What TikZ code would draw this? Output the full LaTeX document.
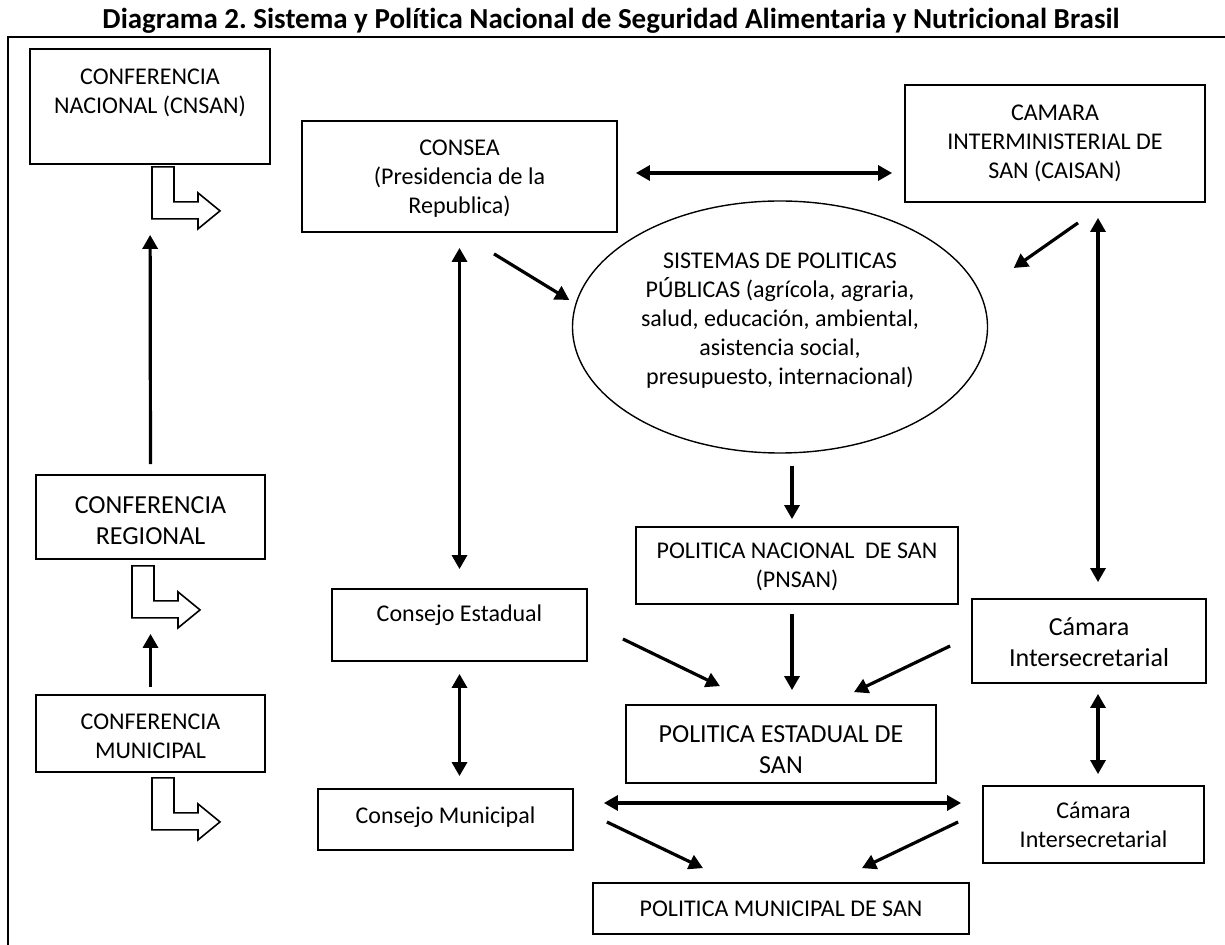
\documentclass[tikz,border=0pt]{standalone}
\usepackage{fontspec}
\setmainfont{Carlito}[Ligatures=NoCommon]
\frenchspacing
\usetikzlibrary{arrows.meta,shapes.geometric}

\tikzset{
  caja/.style={draw, line width=0.9pt, inner sep=0pt, align=center,
    text depth=0pt, font=\fontsize{12}{14.5}\selectfont},
  grande/.style={font=\fontsize{13}{15.5}\selectfont},
  elipse/.style={ellipse, draw, line width=0.7pt, inner sep=0pt, align=center,
    text depth=0pt, font=\fontsize{12}{14.5}\selectfont},
  flecha/.style={-{Triangle[length=7pt,width=7.5pt]}, line width=1.6pt},
  doble/.style={{Triangle[length=7pt,width=7.5pt]}-{Triangle[length=7pt,width=7.5pt]}, line width=1.6pt},
  codo/.pic={
    \draw[line width=0.8pt, fill=white] (0,0) -- (22,0) -- (22,35) -- (46,35) -- (46,26)
      -- (68,44) -- (46,62) -- (46,52) -- (0,52) -- cycle;
  }
}

\begin{document}
\begin{tikzpicture}[x=0.5pt, y=-0.5pt]
\useasboundingbox (0,0) rectangle (1225,945);
\node[font=\bfseries\fontsize{14.5}{17}\selectfont, anchor=base] (titulo) at (611,29)
  {Diagrama 2. Sistema y Política Nacional de Seguridad Alimentaria y Nutricional Brasil};
\draw[line width=1pt] (8,945) -- (8,37) -- (1225,37);

\node[caja, minimum width=120pt, minimum height=57.5pt, text height=7.5pt] (nacional) at (150,106.5)
  {CONFERENCIA\\NACIONAL (CNSAN)};
\node[caja, grande, minimum width=114.5pt, minimum height=42pt, text height=27.4pt] (regional) at (150.5,517)
  {CONFERENCIA\\REGIONAL};
\node[caja, minimum width=114.5pt, minimum height=38.5pt, text height=25.2pt] (municipal) at (150.5,733.5)
  {CONFERENCIA\\MUNICIPAL};
\node[caja, minimum width=157.5pt, minimum height=55.5pt, text height=37.5pt] (consea) at (459.5,176.5)
  {CONSEA\\(Presidencia de la\\Republica)};
\node[caja, minimum width=150pt, minimum height=58.5pt, text height=35.5pt] (caisan) at (1055,143.5)
  {CAMARA\\INTERMINISTERIAL DE\\SAN (CAISAN)};
\node[elipse, minimum width=207.5pt, minimum height=126pt, text height=58pt] (sistemas) at (780,327)
  {SISTEMAS DE POLITICAS\\PÚBLICAS (agrícola, agraria,\\salud, educación, ambiental,\\asistencia social,\\presupuesto, internacional)};
\node[caja, minimum width=161pt, minimum height=38.5pt, text height=22.2pt] (pnsan) at (797,565.5)
  {POLITICA NACIONAL\ \ DE SAN\\(PNSAN)};
\node[caja, minimum width=127.5pt, minimum height=36pt, text height=0pt, text depth=3pt] (estadual) at (459.5,625)
  {Consejo Estadual};
\node[caja, minimum width=127.5pt, minimum height=30.5pt, text height=3.5pt] (cmunicipal) at (445.5,819.5)
  {Consejo Municipal};
\node[caja, grande, minimum width=155pt, minimum height=39pt, text height=29.4pt] (polest) at (781,744)
  {POLITICA ESTADUAL DE\\SAN};
\node[caja, minimum width=188pt, minimum height=25.5pt, text height=8.2pt] (polmun) at (781,908.5)
  {POLITICA MUNICIPAL DE SAN};
\node[caja, grande, minimum width=117pt, minimum height=42pt, text height=26pt] (camara1) at (1089,641)
  {Cámara\\Intersecretarial};
\node[caja, minimum width=110.5pt, minimum height=38.5pt, text height=22.5pt] (camara2) at (1093.5,824.5)
  {Cámara\\Intersecretarial};

\pic at ([shift={(2,2)}]nacional.south) {codo};
\pic at ([shift={(-18.5,6)}]regional.south) {codo};
\pic at ([shift={(1.5,5)}]municipal.south) {codo};

\draw[flecha, shorten <=5pt, shorten >=35pt] (regional.north) -- (nacional.south);
\draw[flecha, shorten <=3.5pt, shorten >=37pt] (municipal.north) -- (regional.south);
\draw[doble, shorten <=7.5pt, shorten >=9.5pt] (consea.south) -- (estadual.north);
\draw[doble, shorten <=6pt, shorten >=6pt] (estadual.south) -- (estadual.south |- cmunicipal.north);
\draw[doble, shorten <=7.5pt, shorten >=8pt] ([xshift=4.5pt]camara1.north |- caisan.south) -- ([xshift=4.5pt]camara1.north);
\draw[doble, shorten <=5pt, shorten >=5.5pt] ([xshift=4.5pt]camara1.south) -- ([xshift=4.5pt]camara1.south |- camara2.north);
\draw[flecha, shorten <=6pt, shorten >=3.5pt] ([xshift=-2.5pt]pnsan.north |- sistemas.south) -- ([xshift=-2.5pt]pnsan.north);
\draw[flecha, shorten <=4.5pt, shorten >=7pt] ([xshift=-2.5pt]pnsan.south) -- ([xshift=-2.5pt]pnsan.south |- polest.north);
\draw[doble, shorten <=9pt, shorten >=6pt] ([yshift=1.75pt]consea.east) -- ([yshift=1.75pt]consea.east -| caisan.west);
\draw[doble, shorten <=15pt, shorten >=10.5pt] ([yshift=8.25pt]cmunicipal.east) -- ([yshift=8.25pt]cmunicipal.east -| camara2.west);

\draw[flecha] ([shift={(34.5,21)}]consea.south) -- ([shift={(-2.5,-27)}]sistemas.west);
\draw[flecha] ([shift={(23,20)}]caisan.south) -- ([shift={(25.5,-59)}]sistemas.east);
\draw[flecha] ([shift={(35,14)}]estadual.east) -- ([shift={(-61,-18)}]polest.north);
\draw[flecha] ([shift={(-21,5)}]camara1.west) -- ([shift={(73,-12)}]polest.north);
\draw[flecha] ([shift={(33,2.5)}]cmunicipal.east) -- ([shift={(-78,-14)}]polmun.north);
\draw[flecha] ([shift={(-24,-2.5)}]camara2.west) -- ([shift={(81,-14)}]polmun.north);
\end{tikzpicture}
\end{document}
